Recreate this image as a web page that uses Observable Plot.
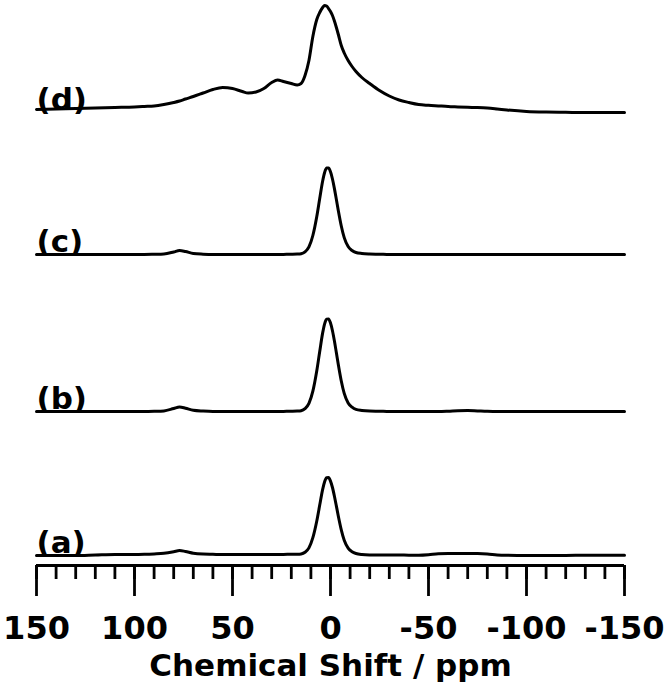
<!DOCTYPE html>
<html><head><meta charset="utf-8">
<script src="https://cdn.jsdelivr.net/npm/d3@7"></script>
<script src="https://cdn.jsdelivr.net/npm/@observablehq/plot@0.6"></script>
<style>body{margin:0;background:#fff}</style>
</head><body><div id="chart"></div>
<script>
// Chemical shift grid (ppm), shared by all spectra
const ppm = [150,140,130,120,110,100,95,90,85,80,77,74,70,65,60,55,50,45,42,38,34,30,27,24,20,17,15,13,11,9,7,5.5,4,3,2,1,0,-1,-2,-3,-4,-5.5,-7,-9,-11,-13,-16,-20,-25,-30,-35,-40,-45,-50,-55,-60,-65,-70,-75,-80,-85,-90,-100,-110,-120,-130,-140,-150];

// Intensities (arbitrary units)
const specA = [0,0,0,0.5,1,1, 1.2,1.6,2.2,3.8,5,4,2.2,1.4,1.2,1, 1,1,1,1,1,1,1,1.1,1.2,1.3, 1.6,3.2,7.6,17.8,34.5,50.4,66.2,73.8,77.8,77.9, 74.4,68,59.3,49.4,39.3,25.7,15.2,7.4,3.8,2, 1,0.6,0.5,0.5,0.5,0.3,0.3,0.8,1.8,2, 2,2,2,1.6,0.6,0.2,0,0,0,0.3, 0.3,0.3];
const specB = [0,0,0,0,0,0, 0,0.2,0.6,3,4.5,3.3,1.2,0.4,0,0, 0,0,0,0,0,0,0,0.1,0.2,0.4, 0.8,2.8,8.1,20.3,40.7,60,78.6,87.7,92.4,92.6, 88.5,80.8,70.5,58.7,46.8,30.5,18.1,8.6,4.3,2.1, 1.1,0.5,0.3,0,0,0,0,0,0,0.3, 0.8,1,0.6,0.2,0,0,0,0,0,0, 0,0];
const specC = [0,0,0,0,0,0, 0,0.2,0.5,2.5,4,3,1,0.3,0,0, 0,0,0,0,0,0,0,0.1,0.2,0.4, 0.8,2.6,7.6,19,38,56,73.5,82,86.4,86.5, 82.7,75.5,65.9,54.9,43.7,28.5,16.9,8,4,2, 1,0.5,0.3,0,0,0,0,0,0,0, 0,0,0,0,0,0,0,0,0,0, 0,0];
const specD = [3,3.5,4,4.5,5,5.5, 6,6.5,8,10,11.5,13.5,16,19.5,23,25, 24,21,19.5,20.5,24,30,32.5,31,29,27.5, 29,37,52,76,93,100,105,107,106.5,104, 101,97,91.5,85,78,67,59.5,52,46,41, 35,29,22,16.5,12.5,10,8,7.2,6.6,6, 5.6,5.2,4.9,4.4,3.5,2.5,1,0.4,0.2,0, 0,0];

const labels = ["(a)","(b)","(c)","(d)"];
const offsets = [10, 154, 311, 453];   // vertical stacking offset of each spectrum
const majorTicks = [150,100,50,0,-50,-100,-150];
const minorTicks = [150,140,130,120,110,100,90,80,70,60,50,40,30,20,10,0,-10,-20,-30,-40,-50,-60,-70,-80,-90,-100,-110,-120,-130,-140,-150];
const axisTitle = "Chemical Shift / ppm";

const spectra = [specA, specB, specC, specD];
const rows = spectra.flatMap((s, i) => ppm.map((p, j) => ({series: labels[i], ppm: p, y: offsets[i] + s[j]})));
const labelRows = labels.map((l, i) => ({label: l, y: offsets[i]}));

const font = "DejaVu Sans";
const chart = Plot.plot({
  width: 664, height: 692,
  marginLeft: 36, marginRight: 40, marginTop: 0, marginBottom: 127,
  x: {domain: [150, -150]},
  y: {domain: [0, 565], axis: null},
  style: {fontFamily: font, fontWeight: "bold", background: "#fff", color: "#000"},
  marks: [
    Plot.ruleY([0], {stroke: "#000", strokeWidth: 3}),
    Plot.axisX(minorTicks, {tickSize: 14, tickFormat: () => "", strokeWidth: 2.8, label: null}),
    Plot.axisX(majorTicks, {tickSize: 31, tickPadding: 20, tickFormat: d => String(d), strokeWidth: 2.8, label: null,
      fontSize: 32, fontWeight: "bold", fontFamily: font, fill: "#000"}),
    Plot.line(rows, {x: "ppm", y: "y", z: "series", stroke: "#000", strokeWidth: 3, curve: "monotone-x"}),
    Plot.text(labelRows, {y: "y", text: "label", frameAnchor: "left", textAnchor: "start", lineAnchor: "bottom",
      fontSize: 31, fontWeight: "bold", fontFamily: font, fill: "#000", dx: 0, dy: -3}),
    Plot.text([axisTitle], {frameAnchor: "bottom", dy: 101, lineAnchor: "middle",
      fontSize: 31, fontWeight: "bold", fontFamily: font, fill: "#000"})
  ]
});
document.getElementById("chart").appendChild(chart);
</script>
</body></html>
